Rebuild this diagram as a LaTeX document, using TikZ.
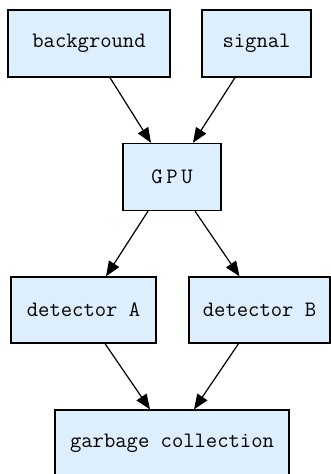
\documentclass[tikz,border=0pt]{standalone}
\usetikzlibrary{arrows.meta}
\definecolor{boxfill}{RGB}{221,238,252}
\tikzset{
  box/.style={draw=black, line width=1.3pt, fill=boxfill, rectangle, inner sep=0pt,
    font=\ttfamily\fontsize{22}{25}\selectfont},
  arr/.style={line width=1.2pt, -{Triangle[length=15pt,width=12pt]}}
}
\begin{document}
\begin{tikzpicture}[x=1pt,y=-1pt]
\useasboundingbox (0,0) rectangle (331,474);
\node[box, minimum width=162pt, minimum height=67pt] (bg) at (89,43.5) {background};
\node[box, minimum width=109pt, minimum height=67pt] (sig) at (256.5,43.5) {signal};
\node[box, minimum width=98pt, minimum height=67pt] (gpu) at (172,177) {G\,P\,U};
\node[box, minimum width=145pt, minimum height=66pt] (detA) at (83.5,310) {detector A};
\node[box, minimum width=141pt, minimum height=66pt] (detB) at (259.5,310) {detector B};
\node[box, minimum width=234pt, minimum height=67pt] (gc) at (172,443.5) {garbage collection};
\draw[arr] ([xshift=21pt]bg.south) -- ([xshift=-21pt]gpu.north);
\draw[arr] ([xshift=-21.5pt]sig.south) -- ([xshift=21pt]gpu.north);
\draw[arr] ([xshift=-24pt]gpu.south) -- ([xshift=22.5pt]detA.north);
\draw[arr] ([xshift=23pt]gpu.south) -- ([xshift=-20pt]detB.north);
\draw[arr] ([xshift=21.5pt]detA.south) -- ([xshift=-22pt]gc.north);
\draw[arr] ([xshift=-21pt]detB.south) -- ([xshift=22pt]gc.north);
\end{tikzpicture}
\end{document}
